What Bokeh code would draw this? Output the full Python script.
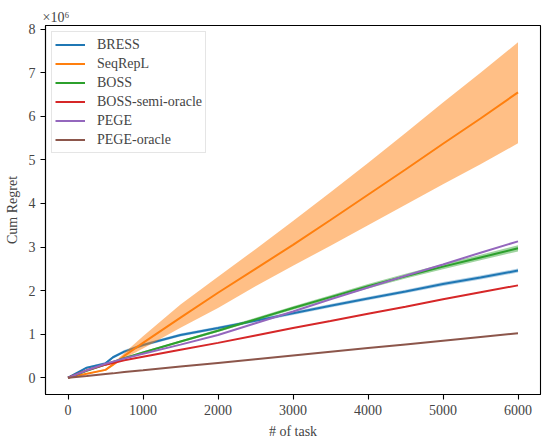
from bokeh.plotting import figure
from bokeh.models import Range1d, Legend, LegendItem, FixedTicker
from bokeh.embed import file_html
from bokeh.resources import INLINE

# number of tasks (x) and cumulative regret in units of 1e6
tasks = [0, 250, 500, 600, 750, 1000, 1500, 2000, 2500, 3000, 3500, 4000, 4500, 5000, 5500, 6000]

bress = [0, 0.23, 0.33, 0.47, 0.60, 0.75, 0.98, 1.14, 1.31, 1.48, 1.65, 1.82, 1.98, 2.15, 2.30, 2.46]
bress_err = [0, 0.02, 0.03, 0.03, 0.035, 0.035, 0.035, 0.035, 0.035, 0.04, 0.04, 0.04, 0.04, 0.045, 0.045, 0.045]

seqrepl = [0, 0.09, 0.18, 0.30, 0.50, 0.80, 1.38, 1.95, 2.50, 3.05, 3.62, 4.20, 4.78, 5.37, 5.95, 6.55]
seqrepl_hi = [0, 0.10, 0.20, 0.33, 0.57, 0.95, 1.68, 2.32, 2.95, 3.60, 4.26, 4.93, 5.62, 6.32, 7.00, 7.70]
seqrepl_lo = [0, 0.08, 0.16, 0.27, 0.44, 0.67, 1.15, 1.60, 2.10, 2.57, 3.03, 3.50, 3.97, 4.44, 4.90, 5.38]

boss = [0, 0.16, 0.30, 0.36, 0.45, 0.58, 0.83, 1.08, 1.34, 1.60, 1.85, 2.10, 2.33, 2.55, 2.76, 2.97]
boss_err = [0, 0.005, 0.01, 0.01, 0.015, 0.02, 0.025, 0.03, 0.035, 0.04, 0.045, 0.05, 0.055, 0.06, 0.065, 0.07]

boss_semi = [0, 0.17, 0.30, 0.34, 0.40, 0.48, 0.64, 0.80, 0.97, 1.14, 1.30, 1.47, 1.63, 1.80, 1.96, 2.12]
pege = [0, 0.17, 0.32, 0.37, 0.44, 0.55, 0.76, 0.98, 1.25, 1.52, 1.80, 2.07, 2.34, 2.60, 2.87, 3.13]
pege_oracle = [0, 0.04, 0.085, 0.10, 0.13, 0.17, 0.255, 0.34, 0.425, 0.51, 0.595, 0.68, 0.765, 0.85, 0.935, 1.02]

x_ticks = [0, 1000, 2000, 3000, 4000, 5000, 6000]
y_ticks = [0, 1, 2, 3, 4, 5, 6, 7, 8]

FONT = "Liberation Serif"
FS = "14px"

p = figure(width=550, height=443, output_backend="svg", toolbar_location=None,
           x_range=Range1d(-300, 6300), y_range=Range1d(-0.385, 8.085),
           min_border_left=45, min_border_right=10, min_border_top=25, min_border_bottom=49)

# scale multiplier shown above the y axis
p.title.text = "×10⁶"
p.title.text_font = FONT
p.title.text_font_size = FS
p.title.text_font_style = "normal"
p.title.align = "left"
p.title.offset = -3
p.title.standoff = 2

p.grid.visible = False
p.outline_line_color = "black"
p.outline_line_width = 1.1
p.background_fill_color = "white"
p.border_fill_color = "white"

for ax in (p.xaxis[0], p.yaxis[0]):
    ax.major_tick_out = 5
    ax.major_tick_in = 0
    ax.minor_tick_out = 0
    ax.minor_tick_in = 0
    ax.axis_line_width = 1.1
    ax.major_tick_line_width = 1.1
    ax.major_label_text_font = FONT
    ax.major_label_text_font_size = FS
    ax.axis_label_text_font = FONT
    ax.axis_label_text_font_size = FS
    ax.axis_label_text_font_style = "normal"
    ax.major_label_standoff = 5

p.xaxis.ticker = FixedTicker(ticks=x_ticks)
p.yaxis.ticker = FixedTicker(ticks=y_ticks)
p.xaxis.axis_label = "# of task"
p.yaxis.axis_label = "Cum Regret"
p.xaxis.axis_label_standoff = 6
p.yaxis.axis_label_standoff = 6

series = [
    ("BRESS", "#1f77b4", bress, [m - e for m, e in zip(bress, bress_err)], [m + e for m, e in zip(bress, bress_err)], 0.35),
    ("SeqRepL", "#ff7f0e", seqrepl, seqrepl_lo, seqrepl_hi, 0.5),
    ("BOSS", "#2ca02c", boss, [m - e for m, e in zip(boss, boss_err)], [m + e for m, e in zip(boss, boss_err)], 0.45),
    ("BOSS-semi-oracle", "#d62728", boss_semi, None, None, 0),
    ("PEGE", "#9467bd", pege, None, None, 0),
    ("PEGE-oracle", "#8c564b", pege_oracle, None, None, 0),
]

items = []
for name, color, mean, lo, hi, alpha in series:
    r = p.line(tasks, mean, line_color=color, line_width=2)
    if lo is not None:
        p.varea(x=tasks, y1=lo, y2=hi, fill_color=color, fill_alpha=alpha)
    items.append(LegendItem(label=name, renderers=[r]))

legend = Legend(items=items, location="top_left", margin=6, padding=3, spacing=0,
                glyph_height=19, glyph_width=30, label_height=19, label_standoff=12,
                label_text_font=FONT, label_text_font_size=FS,
                border_line_color="#cccccc", border_line_width=1,
                background_fill_color="white", background_fill_alpha=0.8)
p.add_layout(legend)

open("out.html", "w").write(file_html(p, INLINE))
